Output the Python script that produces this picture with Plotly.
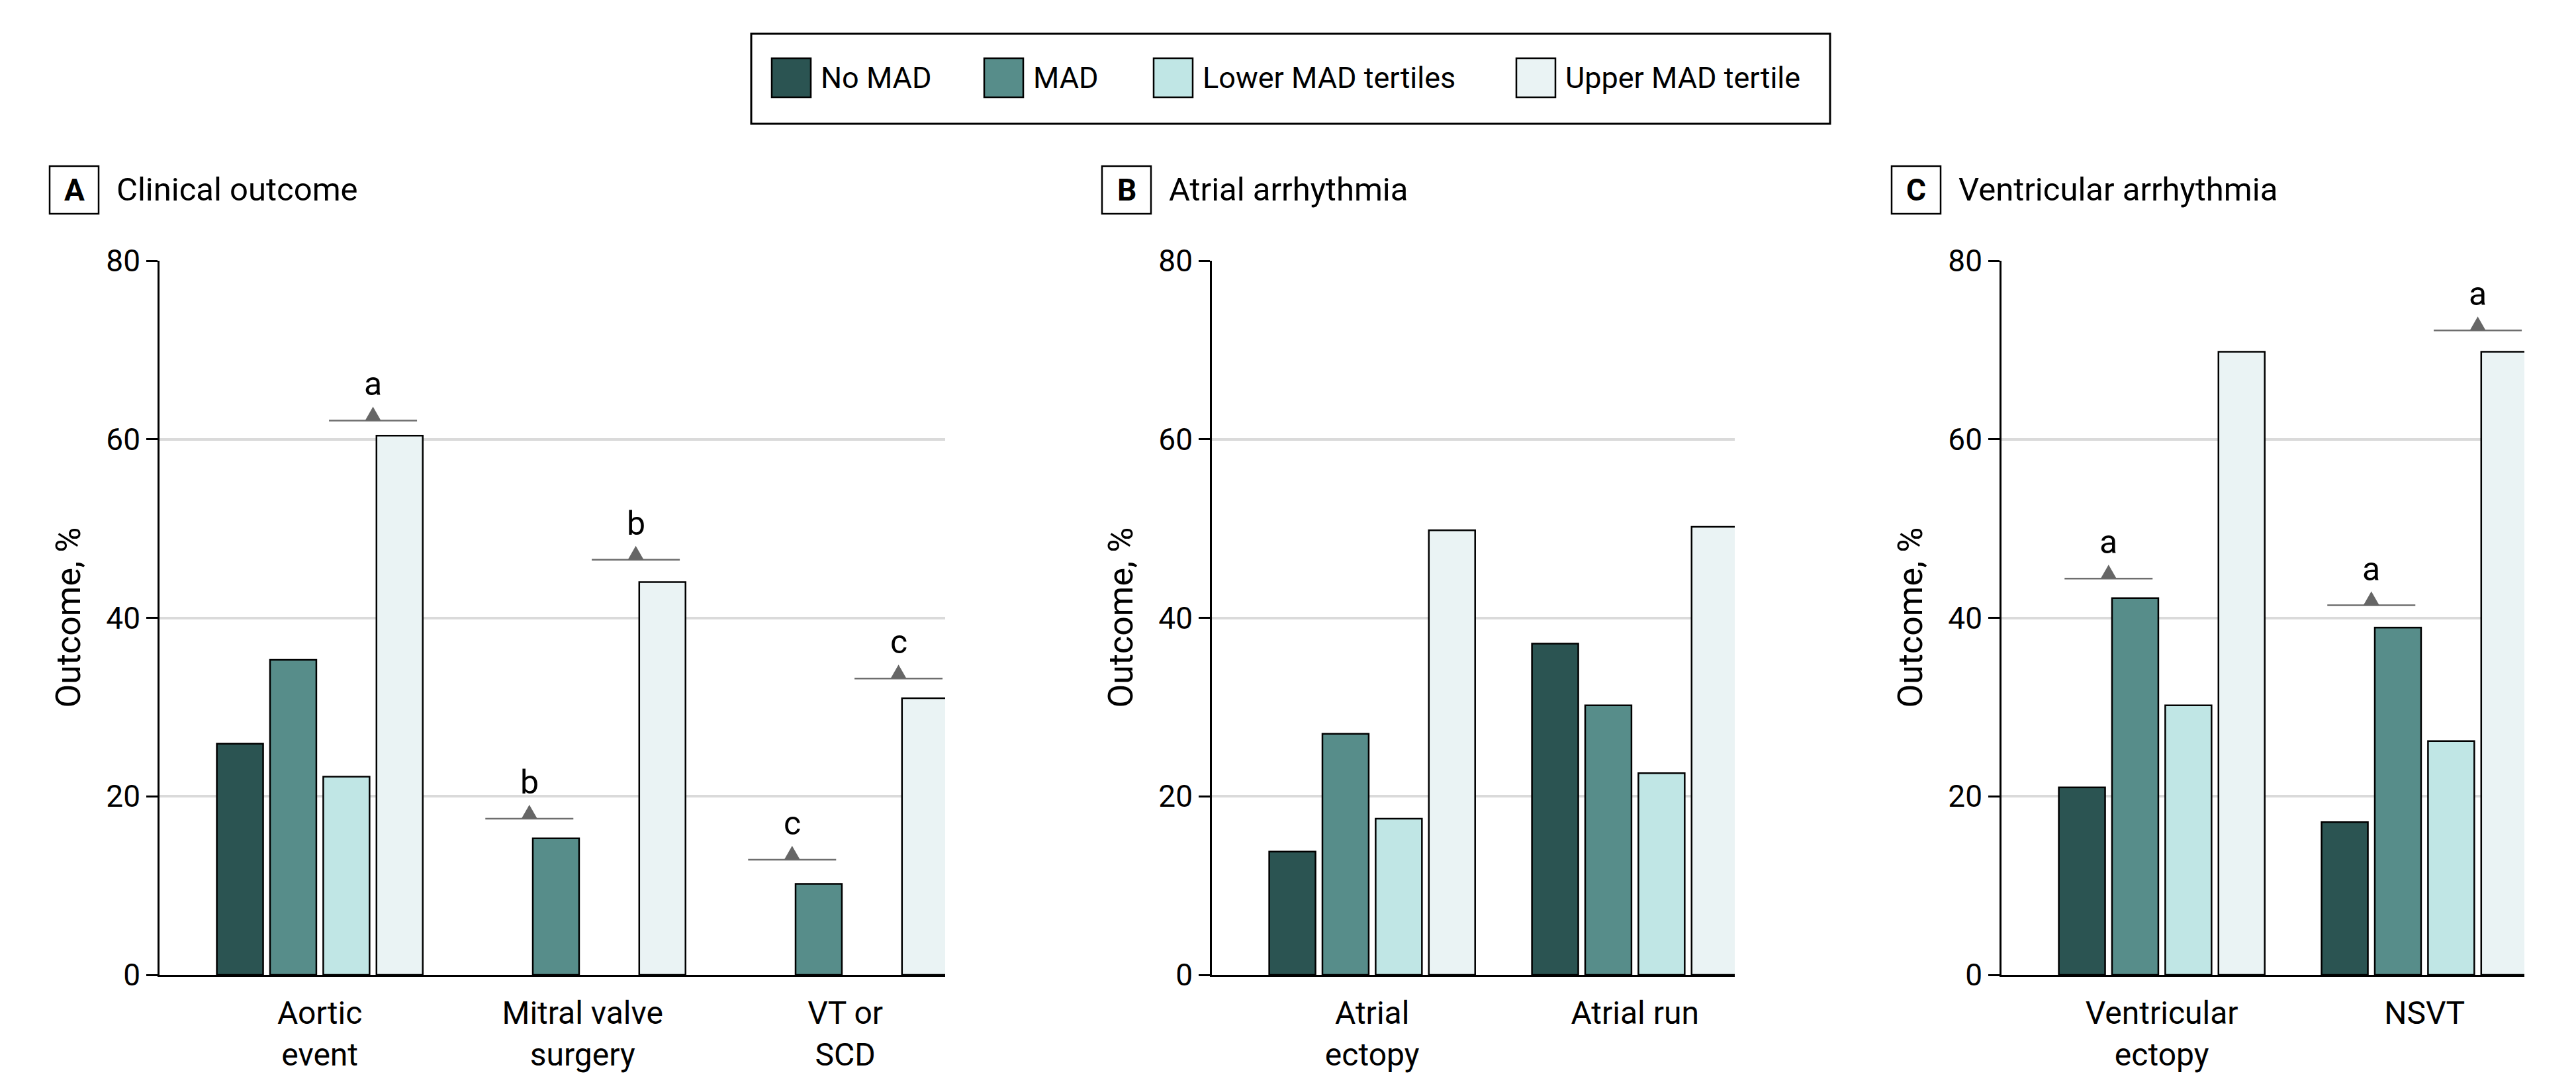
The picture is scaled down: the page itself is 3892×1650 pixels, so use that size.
import plotly.graph_objects as go

W, H = 3892, 1650

# ---------------- data ----------------
series_names = ["No MAD", "MAD", "Lower MAD tertiles", "Upper MAD tertile"]
series_colors = ["#2b5452", "#578d8a", "#c0e6e5", "#eaf3f4"]

a_categories = ["Aortic<br>event", "Mitral valve<br>surgery", "VT or<br>SCD"]
a_no_mad = [25.9, None, None]
a_mad = [35.3, 15.3, 10.2]
a_lower = [22.2, None, None]
a_upper = [60.4, 44.0, 31.0]

b_categories = ["Atrial<br>ectopy", "Atrial run"]
b_no_mad = [13.8, 37.1]
b_mad = [27.0, 30.2]
b_lower = [17.5, 22.6]
b_upper = [49.8, 50.2]

c_categories = ["Ventricular<br>ectopy", "NSVT"]
c_no_mad = [21.0, 17.1]
c_mad = [42.2, 38.9]
c_lower = [30.2, 26.2]
c_upper = [69.8, 69.8]

panel_letters = ["A", "B", "C"]
panel_titles = ["Clinical outcome", "Atrial arrhythmia", "Ventricular arrhythmia"]
y_title = "Outcome, %"
y_ticks = [0, 20, 40, 60, 80]

# significance brackets: panel, category index, pair, bracket height, footnote letter
sig_panel = [0, 0, 0, 0, 0, 2, 2, 2]
sig_cat = [0, 1, 1, 2, 2, 0, 1, 1]
sig_pair = ["high", "low", "high", "low", "high", "low", "low", "high"]
sig_y = [62.1, 17.5, 46.5, 12.9, 33.2, 44.4, 41.4, 72.2]
sig_letter = ["a", "b", "b", "c", "c", "a", "a", "a"]

panels = [
    (a_categories, [a_no_mad, a_mad, a_lower, a_upper]),
    (b_categories, [b_no_mad, b_mad, b_lower, b_upper]),
    (c_categories, [c_no_mad, c_mad, c_lower, c_upper]),
]

# ---------------- layout constants ----------------
FONT = "Roboto"
OFF = 8  # page body margin
axis_left_px = [241, 1831, 3024]
unit_px = 397.0
range_lo = -0.61
range_hi_pad = 0.38
plot_top_px, plot_bot_px = 394, 1473
bargap = 0.19
bargroupgap = 0.13
slot = (1 - bargap) / 4.0


def pxx(x):
    return (x - OFF) / W


def pxy(y):
    return 1 - (y - OFF) / H


fig = go.Figure()
layout = dict(
    width=W, height=H, autosize=False,
    margin=dict(l=0, r=0, t=0, b=0, pad=0),
    paper_bgcolor="white", plot_bgcolor="white",
    barmode="group", bargap=bargap, bargroupgap=bargroupgap,
    showlegend=False,
    font=dict(family=FONT, color="black"),
)
shapes = []
annotations = []

for p, (cats, series) in enumerate(panels):
    suffix = "" if p == 0 else str(p + 1)
    xa, ya = "x" + suffix, "y" + suffix
    n = len(cats)
    hi = n - 1 + range_hi_pad
    x0px = axis_left_px[p]
    x1px = x0px + (hi - range_lo) * unit_px
    for s, vals in enumerate(series):
        fig.add_trace(go.Bar(
            x=cats, y=vals, name=series_names[s], xaxis=xa, yaxis=ya,
            marker=dict(color=series_colors[s], line=dict(color="black", width=2.5)),
            showlegend=False,
        ))
    layout["xaxis" + suffix] = dict(
        domain=[pxx(x0px), pxx(x1px)], anchor=ya, type="category",
        categoryorder="array", categoryarray=cats, automargin=False,
        range=[range_lo, hi], showline=True, linecolor="black", linewidth=2.5,
        ticks="", showgrid=False, zeroline=False, fixedrange=True,
        tickfont=dict(family=FONT, size=48, color="black"),
        ticklabelstandoff=14,
    )
    layout["yaxis" + suffix] = dict(
        domain=[pxy(plot_bot_px), pxy(plot_top_px)], anchor=xa, automargin=False,
        range=[0, 80], tickmode="array", tickvals=y_ticks,
        ticks="outside", ticklen=17, tickwidth=2.5, tickcolor="black",
        showline=True, linecolor="black", linewidth=2.5,
        showgrid=True, gridcolor="#dadada", gridwidth=4, zeroline=False,
        tickfont=dict(family=FONT, size=46, color="black"), fixedrange=True,
    )
    # y axis title
    annotations.append(dict(
        xref="paper", yref="paper", x=pxx(x0px - 138), y=pxy((plot_top_px + plot_bot_px) / 2),
        text=y_title, textangle=-90, showarrow=False, xanchor="center", yanchor="middle",
        font=dict(family=FONT, size=52, color="black"),
    ))
    # panel letter box
    shapes.append(dict(
        type="rect", xref="paper", yref="paper",
        x0=pxx(x0px - 166), x1=pxx(x0px - 92), y0=pxy(323), y1=pxy(251),
        line=dict(color="black", width=2.5), fillcolor="white",
    ))
    annotations.append(dict(
        xref="paper", yref="paper", x=pxx(x0px - 129), y=pxy(287),
        text="<b>" + panel_letters[p] + "</b>", showarrow=False,
        xanchor="center", yanchor="middle",
        font=dict(family=FONT, size=46, color="black"),
    ))
    annotations.append(dict(
        xref="paper", yref="paper", x=pxx(x0px - 67), y=pxy(287),
        text=panel_titles[p], showarrow=False, xanchor="left", yanchor="middle",
        font=dict(family=FONT, size=49, color="black"),
    ))

# significance brackets
for i in range(len(sig_y)):
    p = sig_panel[i]
    suffix = "" if p == 0 else str(p + 1)
    xa, ya = "x" + suffix, "y" + suffix
    xc = sig_cat[i] + (-slot if sig_pair[i] == "low" else slot)
    half = 66.5 / unit_px
    shapes.append(dict(
        type="line", xref=xa, yref=ya, x0=xc - half, x1=xc + half,
        y0=sig_y[i], y1=sig_y[i], line=dict(color="#6e6e6e", width=2.5),
    ))
    shapes.append(dict(
        type="path", xref=xa, yref=ya, xsizemode="pixel", ysizemode="pixel",
        xanchor=xc, yanchor=sig_y[i], path="M -12 0 L 12 0 L 0 21 Z",
        fillcolor="#666666", line=dict(width=0),
    ))
    annotations.append(dict(
        xref=xa, yref=ya, x=xc, y=sig_y[i], yshift=55, text=sig_letter[i],
        showarrow=False, xanchor="center", yanchor="middle",
        font=dict(family=FONT, size=50, color="black"),
    ))

# legend (drawn manually to match the large square swatches)
shapes.append(dict(
    type="rect", xref="paper", yref="paper",
    x0=pxx(1135), x1=pxx(2765), y0=pxy(187), y1=pxy(51),
    line=dict(color="black", width=3), fillcolor="white", layer="below",
))
swatch_left = [1166, 1487, 1743, 2291]
for s in range(len(series_names)):
    shapes.append(dict(
        type="rect", xref="paper", yref="paper",
        x0=pxx(swatch_left[s]), x1=pxx(swatch_left[s] + 59), y0=pxy(147), y1=pxy(88),
        line=dict(color="black", width=2.5), fillcolor=series_colors[s],
    ))
    annotations.append(dict(
        xref="paper", yref="paper", x=pxx(swatch_left[s] + 72), y=pxy(118),
        text=series_names[s], showarrow=False, xanchor="left", yanchor="middle",
        font=dict(family=FONT, size=45, color="black"),
    ))

layout["shapes"] = shapes
layout["annotations"] = annotations
fig.update_layout(**layout)
fig.write_html("out.html")
